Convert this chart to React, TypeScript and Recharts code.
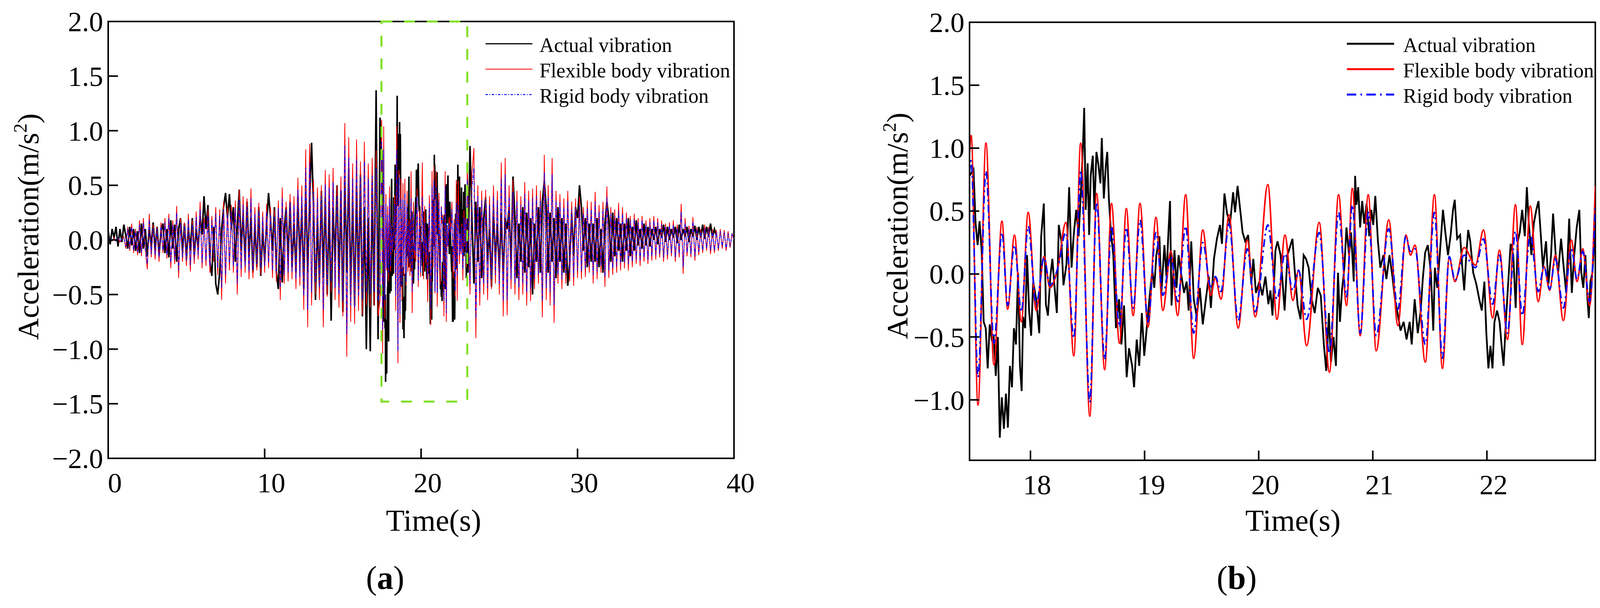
import React from 'react';
import { LineChart, Line, XAxis, YAxis, ReferenceArea, Legend, Label } from 'recharts';

// sampling step of the coarse (full record) traces, seconds
const STEP = 0.125;
const EARLY_START = 0;
const LATE_START = 23;

// zoomed window shown in panel (b) and boxed in panel (a)
const ZOOM_T: [number, number] = [17.466, 22.95];
const ZOOM_V: [number, number] = [-1.48, 2.0];

const FULL_X_TICKS = [0, 10, 20, 30, 40];
const FULL_Y_TICKS = [-2, -1.5, -1, -0.5, 0, 0.5, 1, 1.5, 2];
const ZOOM_X_TICKS = [18, 19, 20, 21, 22];
const ZOOM_Y_TICKS = [-1, -0.5, 0, 0.5, 1, 1.5, 2];

const SERIES_NAMES = ['Actual vibration', 'Flexible body vibration', 'Rigid body vibration'];

// 0 s .. 17.375 s
const ACTUAL_EARLY = [
  0.08, -0.04, 0.1, 0.02, 0.12, -0.06, 0.1, -0.02,
  0.14, 0.04, -0.08, 0.12, -0.05, 0.1, -0.1, 0.08,
  -0.12, 0.15, -0.08, 0.1, -0.15, 0.12, -0.06, 0.16,
  -0.1, 0.12, -0.14, 0.08, 0.15, -0.12, 0.1, -0.16,
  0.18, -0.08, 0.14, -0.2, 0.1, 0.2, -0.12, 0.15,
  -0.18, 0.12, -0.1, 0.2, -0.15, 0.1, -0.08, 0.22,
  0.05, 0.4, 0.1, 0.32, -0.2, -0.33, 0.12, -0.4,
  -0.5, -0.3, 0.1, 0.3, 0.43, 0.2, 0.42, 0.1,
  0.3, -0.2, 0.12, 0.46, -0.1, 0.25, -0.2, 0.35,
  -0.15, 0.2, -0.3, 0.15, -0.25, 0.3, -0.33, 0.1,
  -0.2, 0.15, 0.43, 0.2, -0.1, 0.3, -0.3, -0.45,
  0.2, -0.39, 0.1, 0.3, -0.2, 0.35, -0.25, 0.15,
  -0.3, 0.4, -0.2, 0.3, -0.45, 0.5, -0.3, 0.35,
  0.89, 0.3, -0.55, 0.2, -0.4, 0.45, -0.35, 0.4,
  -0.5, 0.35, -0.74, 0.3, -0.2, 0.5, -0.4, 0.45,
  -0.66, 0.55, -0.3, 0.65, -0.5, 0.4, -0.6, 0.5,
  -0.45, 0.6, -0.7, 0.3, -1.0, 0.2, -1.02, 0.55,
  -0.6, 1.37, -0.91, 1.12,
];
const FLEX_EARLY = [
  0, 0.01, -0.01, 0.02, -0.01, 0.02, -0.02, 0.01,
  0.03, -0.08, 0.12, -0.1, 0.15, -0.12, 0.1, -0.14,
  0.18, -0.15, 0.2, -0.1, -0.27, 0.24, -0.16, 0.14,
  -0.18, 0.12, -0.2, 0.16, -0.12, 0.2, -0.17, 0.24,
  -0.26, 0.18, -0.22, 0.31, -0.35, 0.2, -0.2, 0.16,
  -0.24, 0.24, -0.29, 0.18, -0.22, 0.26, -0.18, 0.35,
  -0.26, 0.2, -0.24, 0.28, -0.3, 0.22, -0.2, 0.3,
  -0.32, 0.28, -0.55, 0.35, -0.4, 0.3, -0.28, 0.32,
  -0.3, 0.36, -0.5, 0.46, -0.34, 0.4, -0.3, 0.38,
  -0.36, 0.47, -0.35, 0.3, -0.28, 0.34, -0.32, 0.26,
  -0.3, 0.33, -0.26, 0.3, -0.35, 0.28, -0.38, 0.36,
  -0.55, 0.48, -0.4, 0.35, -0.38, 0.42, -0.36, 0.4,
  -0.45, 0.57, -0.42, 0.5, -0.64, 0.83, -0.8, 0.88,
  -0.6, 0.55, -0.5, 0.48, -0.55, 0.5, -0.8, 0.64,
  -0.52, 0.6, -0.48, 0.66, -0.55, 0.5, -0.62, 0.58,
  -0.7, 1.07, -1.07, 0.94, -0.75, 0.7, -0.77, 0.92,
  -0.65, 0.72, -0.69, 0.9, -0.6, 0.7, -0.62, 0.75,
  -0.6, 0.82, -0.7, -0.55,
];
const RIGID_EARLY = [
  0, 0.01, -0.01, 0.01, -0.01, 0.02, -0.01, 0.01,
  0.02, -0.06, 0.1, -0.08, 0.12, -0.1, 0.08, -0.11,
  0.14, -0.12, 0.16, -0.08, -0.22, 0.19, -0.13, 0.11,
  -0.14, 0.1, -0.16, 0.13, -0.1, 0.16, -0.14, 0.2,
  -0.21, 0.14, -0.18, 0.25, -0.28, 0.16, -0.16, 0.13,
  -0.19, 0.19, -0.23, 0.14, -0.18, 0.21, -0.14, 0.28,
  -0.21, 0.16, -0.19, 0.22, -0.24, 0.18, -0.16, 0.24,
  -0.26, 0.22, -0.44, 0.28, -0.32, 0.24, -0.22, 0.26,
  -0.24, 0.29, -0.4, 0.37, -0.27, 0.32, -0.24, 0.3,
  -0.29, 0.38, -0.28, 0.24, -0.22, 0.27, -0.26, 0.21,
  -0.24, 0.26, -0.21, 0.24, -0.28, 0.22, -0.3, 0.29,
  -0.44, 0.38, -0.32, 0.28, -0.3, 0.34, -0.29, 0.32,
  -0.36, 0.46, -0.34, 0.4, -0.51, 0.66, -0.64, 0.7,
  -0.48, 0.44, -0.4, 0.38, -0.44, 0.4, -0.64, 0.51,
  -0.42, 0.48, -0.38, 0.53, -0.44, 0.4, -0.5, 0.46,
  -0.56, 0.86, -0.86, 0.75, -0.6, 0.56, -0.62, 0.74,
  -0.52, 0.58, -0.55, 0.72, -0.48, 0.56, -0.5, 0.6,
  -0.48, 0.66, -0.56, -0.44,
];

// zoom window, simulated traces read at their peaks and troughs
const FINE_T = [
  17.466, 17.48, 17.54, 17.61, 17.68, 17.75, 17.8, 17.86, 17.92, 17.98,
  18.05, 18.12, 18.17, 18.24, 18.31, 18.38, 18.44, 18.52, 18.58, 18.65,
  18.71, 18.78, 18.84, 18.9, 18.96, 19.03, 19.1, 19.16, 19.23, 19.29,
  19.36, 19.43, 19.51, 19.58, 19.62, 19.67, 19.74, 19.82, 19.9, 19.97,
  20.08, 20.16, 20.23, 20.3, 20.35, 20.42, 20.53, 20.62, 20.7, 20.77,
  20.82, 20.89, 20.96, 21.03, 21.14, 21.22, 21.29, 21.33, 21.37, 21.46,
  21.54, 21.61, 21.67, 21.72, 21.8, 21.9, 21.97, 22.05, 22.11, 22.18,
  22.25, 22.31, 22.38, 22.45, 22.5, 22.55, 22.6, 22.67, 22.74, 22.79,
  22.84, 22.9, 22.95,
];
const FLEX_FINE = [
  0.95, 1.1, -1.04, 1.04, -0.72, 0.42, -0.28, 0.31, -0.38, 0.49,
  -0.29, 0.14, -0.11, 0.05, 0.41, -0.65, 1.04, -1.13, 0.64, -0.76,
  0.56, -0.55, 0.52, -0.33, 0.56, -0.42, 0.45, -0.29, 0.18, -0.33,
  0.63, -0.67, 0.35, -0.17, -0.03, -0.2, 0.47, -0.43, 0.27, -0.34,
  0.71, -0.36, 0.31, -0.21, 0.03, -0.57, 0.41, -0.78, 0.63, -0.25,
  0.68, -0.49, 0.63, -0.61, 0.43, -0.41, 0.31, 0.15, 0.23, -0.7,
  0.63, -0.75, 0.13, -0.06, 0.21, 0.07, 0.35, -0.35, 0.19, -0.52,
  0.55, -0.56, 0.54, -0.22, 0.06, -0.13, 0.15, -0.37, 0.27, -0.06,
  0.2, -0.25, 0.7,
];
const RIGID_FINE = [
  0.8, 0.9, -0.82, 0.82, -0.55, 0.33, -0.25, 0.23, -0.3, 0.38,
  -0.24, 0.13, -0.09, 0.05, 0.33, -0.51, 0.82, -1.02, 0.57, -0.68,
  0.38, -0.42, 0.37, -0.27, 0.43, -0.38, 0.33, -0.17, 0.14, -0.22,
  0.38, -0.47, 0.25, -0.1, -0.02, -0.14, 0.4, -0.37, 0.2, -0.3,
  0.39, -0.2, 0.16, -0.13, 0.03, -0.36, 0.33, -0.63, 0.49, -0.18,
  0.55, -0.47, 0.49, -0.49, 0.36, -0.28, 0.3, 0.18, 0.2, -0.56,
  0.49, -0.67, 0.14, -0.05, 0.15, 0.05, 0.28, -0.24, 0.15, -0.47,
  0.34, -0.33, 0.32, -0.14, 0.06, -0.12, 0.12, -0.27, 0.2, -0.04,
  0.18, -0.22, 0.55,
];

// zoom window, measured trace
const ACTUAL_FINE_T = [
  17.466, 17.501, 17.519, 17.537, 17.554, 17.572, 17.59, 17.608, 17.625, 17.643,
  17.661, 17.678, 17.696, 17.714, 17.731, 17.749, 17.767, 17.785, 17.802, 17.82,
  17.838, 17.855, 17.873, 17.891, 17.908, 17.923, 17.935, 17.953, 17.97, 17.988,
  18.006, 18.024, 18.05, 18.077, 18.094, 18.117, 18.135, 18.153, 18.174, 18.192,
  18.209, 18.231, 18.248, 18.271, 18.289, 18.316, 18.339, 18.36, 18.378, 18.401,
  18.422, 18.448, 18.461, 18.471, 18.484, 18.501, 18.514, 18.528, 18.546, 18.56,
  18.578, 18.595, 18.613, 18.625, 18.643, 18.661, 18.673, 18.687, 18.705, 18.726,
  18.749, 18.776, 18.797, 18.82, 18.843, 18.864, 18.891, 18.908, 18.931, 18.953,
  18.976, 18.997, 19.024, 19.045, 19.068, 19.085, 19.103, 19.13, 19.147, 19.174,
  19.192, 19.209, 19.223, 19.236, 19.262, 19.28, 19.298, 19.324, 19.346, 19.369,
  19.386, 19.409, 19.431, 19.457, 19.484, 19.51, 19.537, 19.563, 19.581, 19.608,
  19.634, 19.661, 19.678, 19.7, 19.723, 19.749, 19.776, 19.793, 19.815, 19.838,
  19.859, 19.882, 19.908, 19.935, 19.953, 19.976, 20.006, 20.032, 20.059, 20.085,
  20.103, 20.121, 20.147, 20.165, 20.192, 20.209, 20.227, 20.252, 20.279, 20.296,
  20.314, 20.341, 20.367, 20.394, 20.415, 20.438, 20.464, 20.491, 20.518, 20.544,
  20.571, 20.592, 20.615, 20.633, 20.656, 20.677, 20.695, 20.712, 20.73, 20.751,
  20.769, 20.792, 20.81, 20.833, 20.845, 20.857, 20.872, 20.889, 20.907, 20.925,
  20.946, 20.969, 20.987, 21.004, 21.022, 21.045, 21.066, 21.093, 21.119, 21.146,
  21.172, 21.194, 21.217, 21.243, 21.27, 21.296, 21.323, 21.341, 21.367, 21.394,
  21.42, 21.438, 21.459, 21.482, 21.509, 21.53, 21.544, 21.565, 21.588, 21.615,
  21.636, 21.659, 21.682, 21.703, 21.718, 21.739, 21.765, 21.783, 21.801, 21.819,
  21.836, 21.854, 21.88, 21.907, 21.933, 21.955, 21.978, 21.995, 22.013, 22.031,
  22.049, 22.066, 22.089, 22.111, 22.128, 22.146, 22.164, 22.19, 22.208, 22.231,
  22.252, 22.27, 22.288, 22.309, 22.332, 22.35, 22.367, 22.39, 22.411, 22.433,
  22.452, 22.473, 22.491, 22.518, 22.539, 22.562, 22.58, 22.603, 22.624, 22.65,
  22.673, 22.695, 22.721, 22.744, 22.765, 22.787, 22.81, 22.827, 22.845, 22.863,
  22.881, 22.893, 22.907, 22.925, 22.943, 22.957,
];
const ACTUAL_FINE = [
  0.78, 0.83, 0.4, 0.23, 0.42, 0.19, -0.38, -0.43, -0.75, -0.4,
  -0.52, -0.5, -0.81, -0.5, -1.3, -0.98, -1.23, -0.95, -1.22, -0.73,
  -0.9, -0.43, -0.56, 0.01, -0.73, -0.93, -0.34, -0.43, 0.15, -0.29,
  -0.49, -0.06, -0.2, -0.47, 0.3, 0.56, -0.24, -0.33, -0.02, 0.12,
  -0.08, -0.31, 0.39, 0.26, -0.09, 0.08, 0.69, 0.05, 0.3, 0.51,
  0.3, 0.76, 1.04, 1.32, 0.51, 0.88, 0.31, 0.78, 0.94, 0.51,
  0.97, 0.87, 0.72, 1.08, 0.6, 0.87, 0.97, 0.6, 0.33, 0.15,
  -0.43, -0.2, -0.56, -0.25, -0.82, -0.59, -0.73, -0.9, -0.52, -0.73,
  -0.31, -0.65, -0.38, -0.17, 0.03, -0.11, 0.15, 0.3, -0.15, 0.23,
  -0.02, 0.33, 0.58, -0.25, 0.19, -0.11, 0.15, -0.02, -0.15, -0.06,
  -0.29, 0.26, -0.2, -0.34, -0.11, -0.4, -0.2, -0.02, -0.27, 0.12,
  0.28, 0.39, 0.24, 0.64, 0.48, 0.4, 0.65, 0.49, 0.7, 0.51,
  0.33, 0.26, 0.31, -0.08, 0.12, -0.15, -0.06, -0.17, -0.02, -0.24,
  -0.13, -0.33, 0.19, 0.26, 0.15, -0.06, -0.29, 0.15, 0.23, 0.28,
  0.05, -0.25, -0.36, 0.15, 0.12, 0.05, -0.2, -0.31, -0.11, -0.17,
  -0.56, -0.77, -0.31, -0.7, -0.5, -0.73, 0.01, -0.38, -0.13, 0.05,
  0.37, 0.15, 0.33, -0.06, 0.78, 0.55, 0.69, 0.37, 0.58, 0.4,
  0.56, 0.3, 0.51, 0.39, 0.62, 0.26, 0.05, 0.15, -0.04, 0.15,
  -0.02, -0.2, -0.31, -0.45, -0.38, -0.52, -0.38, -0.56, -0.2, -0.47,
  -0.29, -0.04, 0.17, 0.23, 0.01, -0.45, 0.05, -0.11, 0.17, 0.51,
  0.33, 0.15, 0.31, 0.51, 0.59, 0.28, 0.31, 0.07, -0.13, 0.15,
  0.35, 0.26, 0.01, -0.08, -0.2, -0.29, -0.06, -0.47, -0.75, -0.57,
  -0.75, -0.38, -0.29, -0.38, -0.56, -0.73, -0.41, -0.02, 0.24, 0.15,
  -0.27, 0.26, 0.33, 0.51, 0.3, 0.69, 0.4, 0.15, 0.4, 0.51,
  0.58, 0.3, 0.05, 0.26, -0.08, 0.15, 0.48, 0.15, 0.01, 0.28,
  0.05, -0.15, 0.44, -0.15, 0.15, 0.37, 0.51, 0.01, -0.11, 0.15,
  -0.2, -0.35, -0.06, 0.01, 0.3, 0.15,
];

// 23 s .. 40 s (measured trace stops near 38.9 s)
const ACTUAL_LATE = [
  -0.3, 0.86, 0.2, -0.4, 0.35, -0.2, 0.3, -0.35,
  0.2, 0.39, -0.2, 0.1, -0.43, 0.3, -0.2, 0.15,
  -0.3, 0.25, -0.35, 0.2, 0.1, 0.3, -0.25, 0.58,
  0.2, -0.35, 0.15, -0.2, 0.3, -0.3, 0.25, -0.25,
  0.2, -0.5, 0.15, -0.2, 0.3, -0.3, 0.35, 0.54,
  0.3, -0.3, 0.25, -0.2, 0.2, -0.35, 0.3, -0.2,
  0.2, -0.3, 0.15, -0.42, -0.2, 0.25, -0.15, 0.3,
  0.2, 0.5, 0.3, -0.1, 0.2, -0.25, 0.15, -0.2,
  0.15, -0.2, 0.2, -0.25, 0.1, -0.3, 0.15, 0.35,
  0.2, -0.2, 0.25, -0.15, 0.2, -0.1, 0.15, -0.2,
  0.15, -0.1, 0.2, -0.15, 0.12, -0.1, 0.18, -0.05,
  0.1, -0.08, 0.15, -0.05, 0.12, -0.06, 0.1, 0,
  0.12, -0.04, 0.1, 0.02, 0.14, -0.02, 0.12, 0,
  0.1, 0.02, 0.12, -0.03, 0.14, 0, 0.1, 0.03,
  0.12, -0.02, 0.1, 0.03, 0.13, 0, 0.12, 0.02,
  0.14, 0.01, 0.12, 0.03, 0.15, 0.02, 0.1, 0.04,
];
const FLEX_LATE = [
  0.4, -0.5, 0.6, 0.84, -0.9, 0.5, -0.6, 0.45,
  -0.5, 0.46, -0.55, 0.4, -0.45, 0.5, -0.4, 0.45,
  -0.5, 0.71, -0.7, 0.75, -0.69, 0.5, -0.45, 0.55,
  -0.5, 0.45, -0.55, 0.4, -0.5, 0.53, -0.6, 0.45,
  -0.56, 0.47, -0.45, 0.5, -0.4, 0.45, -0.71, 0.78,
  -0.55, 0.5, -0.6, 0.75, -0.76, 0.45, -0.4, 0.42,
  -0.45, 0.38, -0.4, 0.45, -0.38, 0.35, -0.42, 0.38,
  -0.35, 0.4, -0.36, 0.3, -0.34, 0.36, -0.3, 0.35,
  -0.4, 0.44, -0.36, 0.32, -0.3, 0.35, -0.43, 0.49,
  -0.35, 0.3, -0.32, 0.28, -0.3, 0.34, -0.28, 0.3,
  -0.26, 0.25, -0.28, 0.22, -0.25, 0.24, -0.22, 0.2,
  -0.24, 0.22, -0.2, 0.18, -0.22, 0.2, -0.19, 0.22,
  -0.18, 0.2, -0.16, 0.18, -0.2, 0.15, -0.18, 0.16,
  -0.15, 0.18, -0.2, 0.14, -0.16, 0.33, -0.31, 0.2,
  -0.15, 0.13, -0.16, 0.21, -0.19, 0.12, -0.14, 0.1,
  -0.12, 0.14, -0.1, 0.12, -0.13, 0.1, -0.12, 0.09,
  -0.1, 0.1, -0.08, 0.09, -0.1, 0.08, -0.07, 0.06,
  0,
];
const RIGID_LATE = [
  0.32, -0.4, 0.48, 0.66, -0.72, 0.4, -0.48, 0.36,
  -0.4, 0.37, -0.44, 0.32, -0.36, 0.4, -0.32, 0.36,
  -0.4, 0.56, -0.56, 0.6, -0.55, 0.4, -0.36, 0.44,
  -0.4, 0.36, -0.44, 0.32, -0.4, 0.42, -0.48, 0.36,
  -0.45, 0.38, -0.36, 0.4, -0.32, 0.36, -0.56, 0.62,
  -0.44, 0.4, -0.48, 0.6, -0.6, 0.36, -0.32, 0.34,
  -0.36, 0.3, -0.32, 0.36, -0.3, 0.28, -0.34, 0.3,
  -0.28, 0.32, -0.29, 0.24, -0.27, 0.29, -0.24, 0.28,
  -0.32, 0.35, -0.29, 0.26, -0.24, 0.28, -0.34, 0.39,
  -0.28, 0.24, -0.26, 0.22, -0.24, 0.27, -0.22, 0.24,
  -0.21, 0.2, -0.22, 0.18, -0.2, 0.19, -0.18, 0.16,
  -0.19, 0.18, -0.16, 0.14, -0.18, 0.16, -0.15, 0.18,
  -0.14, 0.16, -0.13, 0.14, -0.16, 0.12, -0.14, 0.13,
  -0.12, 0.14, -0.16, 0.11, -0.13, 0.26, -0.25, 0.16,
  -0.12, 0.1, -0.13, 0.17, -0.15, 0.1, -0.11, 0.08,
  -0.1, 0.11, -0.08, 0.1, -0.1, 0.08, -0.1, 0.07,
  -0.08, 0.08, -0.06, 0.07, -0.08, 0.06, -0.06, 0.05,
  0,
];

type Pt = { t: number; v: number };

const onGrid = (start: number, values: number[]): Pt[] =>
  values.map((v, i) => ({ t: Math.round((start + i * STEP) * 1000) / 1000, v }));
const paired = (ts: number[], vs: number[]): Pt[] => ts.map((t, i) => ({ t, v: vs[i] }));

const actualZoom = paired(ACTUAL_FINE_T, ACTUAL_FINE);
const flexZoom = paired(FINE_T, FLEX_FINE);
const rigidZoom = paired(FINE_T, RIGID_FINE);

const actualFull = [...onGrid(EARLY_START, ACTUAL_EARLY), ...actualZoom, ...onGrid(LATE_START, ACTUAL_LATE)];
const flexFull = [...onGrid(EARLY_START, FLEX_EARLY), ...flexZoom, ...onGrid(LATE_START, FLEX_LATE)];
const rigidFull = [...onGrid(EARLY_START, RIGID_EARLY), ...rigidZoom, ...onGrid(LATE_START, RIGID_LATE)];

const FONT = '"Liberation Serif", "Times New Roman", Times, serif';
const GREEN = '#7fdf1f';
const fmt = (v: number) => v.toFixed(1).replace('-', '\u2212');

function YTick({ x, y, payload }: any) {
  return (
    <g>
      <line x1={x} y1={y} x2={x + 25} y2={y} stroke="#000" strokeWidth={4} />
      <text x={x - 13} y={y} dy="0.35em" textAnchor="end" fontFamily={FONT} fontSize={72} fill="#000">
        {fmt(payload.value)}
      </text>
    </g>
  );
}

function XTick({ x, y, payload }: any) {
  return (
    <g>
      <line x1={x} y1={y} x2={x} y2={y - 25} stroke="#000" strokeWidth={4} />
      <text x={x + 17} y={y + 87} textAnchor="middle" fontFamily={FONT} fontSize={72} fill="#000">
        {payload.value}
      </text>
    </g>
  );
}

type LegendStyle = { width: number; dash?: string }[];

function legendContent(styles: LegendStyle, lineLen: number, textX: number) {
  const colors = ['#000', '#ff0000', '#0000ff'];
  return () => (
    <svg width={700} height={210} style={{ display: 'block', overflow: 'visible' }}>
      {SERIES_NAMES.map((name, i) => {
        const y = 32 + i * 65;
        return (
          <g key={name}>
            <line x1={0} x2={lineLen} y1={y} y2={y} stroke={colors[i]} strokeWidth={styles[i].width}
              strokeDasharray={styles[i].dash} />
            <text x={textX} y={y + 21} fontFamily={FONT} fontSize={52} fill="#000">{name}</text>
          </g>
        );
      })}
    </svg>
  );
}

type PanelProps = {
  left: number;
  width: number;
  margin: { top: number; right: number; bottom: number; left: number };
  xDomain: [number, number];
  yDomain: [number, number];
  xTicks: number[];
  yTicks: number[];
  actual: Pt[];
  flex: Pt[];
  rigid: Pt[];
  widths: [number, number, number];
  rigidDash: string;
  curve: 'linear' | 'monotone';
  legendAt: { left: number; top: number };
  legendStyles: LegendStyle;
  legendLine: number;
  legendText: number;
  yLabelAt: [number, number];
  xLabelAt: [number, number];
  tag: string;
  tagAt: [number, number];
  showBox?: boolean;
};

function Panel(p: PanelProps) {
  const [yx, yy] = p.yLabelAt;
  return (
    <div style={{ position: 'absolute', left: p.left, top: 0 }}>
      <LineChart width={p.width} height={1556} margin={p.margin}>
        <XAxis dataKey="t" type="number" domain={p.xDomain} allowDataOverflow ticks={p.xTicks} interval={0}
          height={60} tickSize={0} tickMargin={0} tick={<XTick />} axisLine={{ stroke: '#000', strokeWidth: 4 }}>
          <Label content={() => (
            <text x={p.xLabelAt[0]} y={p.xLabelAt[1]} textAnchor="middle" fontFamily={FONT} fontSize={78} fill="#000">
              Time(s)
            </text>
          )} />
        </XAxis>
        <YAxis type="number" domain={p.yDomain} allowDataOverflow ticks={p.yTicks} interval={0}
          width={60} tickSize={0} tickMargin={0} tick={<YTick />} axisLine={{ stroke: '#000', strokeWidth: 4 }}>
          <Label content={() => (
            <g>
              <text x={yx} y={yy} transform={`rotate(-90 ${yx} ${yy})`} textAnchor="middle" fontFamily={FONT}
                fontSize={77} fill="#000">
                Acceleration(m/s<tspan dy={-30} fontSize={48}>2</tspan><tspan dy={30}>)</tspan>
              </text>
              <text x={p.tagAt[0]} y={p.tagAt[1]} textAnchor="middle" fontFamily={FONT} fontSize={84} fill="#000">
                (<tspan fontWeight="bold">{p.tag}</tspan>)
              </text>
            </g>
          )} />
        </YAxis>
        <ReferenceArea x1={p.xDomain[0]} x2={p.xDomain[1]} y1={p.yDomain[0]} y2={p.yDomain[1]}
          fill="none" fillOpacity={0} stroke="#000" strokeWidth={4} ifOverflow="visible" />
        <Line data={p.actual} dataKey="v" name={SERIES_NAMES[0]} type="linear" stroke="#000"
          strokeWidth={p.widths[0]} dot={false} activeDot={false} isAnimationActive={false} />
        <Line data={p.flex} dataKey="v" name={SERIES_NAMES[1]} type={p.curve} stroke="#ff0000"
          strokeWidth={p.widths[1]} dot={false} activeDot={false} isAnimationActive={false} />
        <Line data={p.rigid} dataKey="v" name={SERIES_NAMES[2]} type={p.curve} stroke="#0000ff"
          strokeWidth={p.widths[2]} strokeDasharray={p.rigidDash} dot={false} activeDot={false}
          isAnimationActive={false} />
        {p.showBox && (
          <ReferenceArea x1={ZOOM_T[0]} x2={ZOOM_T[1]} y1={ZOOM_V[0]} y2={ZOOM_V[1]} fill="none" fillOpacity={0}
            stroke={GREEN} strokeWidth={5} strokeDasharray="28 30" ifOverflow="visible" zIndex={900} />
        )}
        <Legend layout="vertical" align="center" verticalAlign="middle" width={700} height={210}
          wrapperStyle={{ left: p.legendAt.left, top: p.legendAt.top, width: 700, height: 210 }}
          content={legendContent(p.legendStyles, p.legendLine, p.legendText)} />
      </LineChart>
    </div>
  );
}

export default function App() {
  return (
    <div style={{ position: 'absolute', left: 0, top: 0, width: 4118, height: 1556, background: '#fff', overflow: 'hidden' }}>
      <Panel
        left={0}
        width={1980}
        margin={{ top: 55, right: 101, bottom: 323, left: 217 }}
        xDomain={[0, 40]}
        yDomain={[-2, 2]}
        xTicks={FULL_X_TICKS}
        yTicks={FULL_Y_TICKS}
        actual={actualFull}
        flex={flexFull}
        rigid={rigidFull}
        widths={[4, 2, 2]}
        rigidDash="8 3 2 3"
        curve="linear"
        legendAt={{ left: 1243, top: 80 }}
        legendStyles={[{ width: 3 }, { width: 2 }, { width: 2.5, dash: '6 4 2 4' }]}
        legendLine={120}
        legendText={138}
        yLabelAt={[98, 580]}
        xLabelAt={[1110, 1358]}
        tag="a"
        tagAt={[986, 1507]}
        showBox
      />
      <Panel
        left={2100}
        width={2018}
        margin={{ top: 57, right: 34, bottom: 318, left: 322 }}
        xDomain={ZOOM_T}
        yDomain={ZOOM_V}
        xTicks={ZOOM_X_TICKS}
        yTicks={ZOOM_Y_TICKS}
        actual={actualZoom}
        flex={flexZoom}
        rigid={rigidZoom}
        widths={[4.5, 4, 4]}
        rigidDash="20 9 5 9"
        curve="monotone"
        legendAt={{ left: 1348, top: 80 }}
        legendStyles={[{ width: 5 }, { width: 5 }, { width: 5, dash: '24 11 4 11' }]}
        legendLine={121}
        legendText={144}
        yLabelAt={[223, 578]}
        xLabelAt={[1210, 1358]}
        tag="b"
        tagAt={[1066, 1507]}
      />
    </div>
  );
}
